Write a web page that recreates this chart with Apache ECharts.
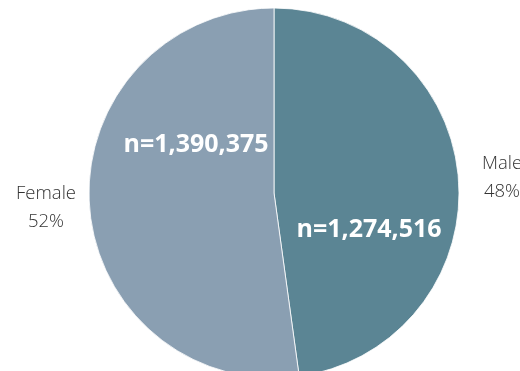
<!DOCTYPE html>
<html>
<head>
<meta charset="utf-8">
<script src="https://cdn.jsdelivr.net/npm/echarts@6/dist/echarts.min.js"></script>
<style>
  html, body { margin: 0; padding: 0; background: #fff; }
  #chart { width: 520px; height: 371px; }
</style>
</head>
<body>
<div id="chart"></div>
<script>
// Respondent counts by gender
const categories = ['Male', 'Female'];
const counts = [1274516, 1390375];
const colors = ['#5b8594', '#8a9fb2'];

const total = counts.reduce((a, b) => a + b, 0);
const fmt = n => n.toLocaleString('en-US');

const center = [274, 193];
const radius = 185;

// Positions for the count labels inside each slice
const innerPos = { Male: [369, 230], Female: [196, 145] };
// Centres of the name / percentage labels beside the pie
const outerPos = { Male: [502, 178], Female: [46, 208] };

const chart = echarts.init(document.getElementById('chart'), null, { renderer: 'canvas' });
chart.setOption({
  animation: false,
  graphic: categories.map((name, i) => ({
    type: 'text',
    x: outerPos[name][0],
    y: outerPos[name][1],
    z: 10,
    silent: true,
    style: {
      text: name + '\n' + Math.round(counts[i] / total * 100) + '%',
      align: 'center',
      verticalAlign: 'middle',
      fontFamily: 'Open Sans',
      fontWeight: 300,
      fontSize: 18.5,
      lineHeight: 28,
      fill: '#333333'
    }
  })),
  series: [
    {
      type: 'pie',
      center: center,
      radius: radius,
      startAngle: 90,
      clockwise: true,
      data: categories.map((name, i) => ({
        name: name,
        value: counts[i],
        itemStyle: { color: colors[i] }
      })),
      itemStyle: { borderColor: '#ffffff', borderWidth: 0.8 },
      label: {
        show: true,
        position: 'inside',
        formatter: p => 'n=' + fmt(p.value),
        fontFamily: 'Open Sans',
        fontWeight: 'bold',
        fontSize: 25,
        color: '#ffffff'
      },
      labelLayout: p => {
        const pos = innerPos[categories[p.dataIndex]];
        return { x: pos[0], y: pos[1], align: 'center', verticalAlign: 'middle' };
      },
      emphasis: { disabled: true }
    }
  ]
});
</script>
</body>
</html>
